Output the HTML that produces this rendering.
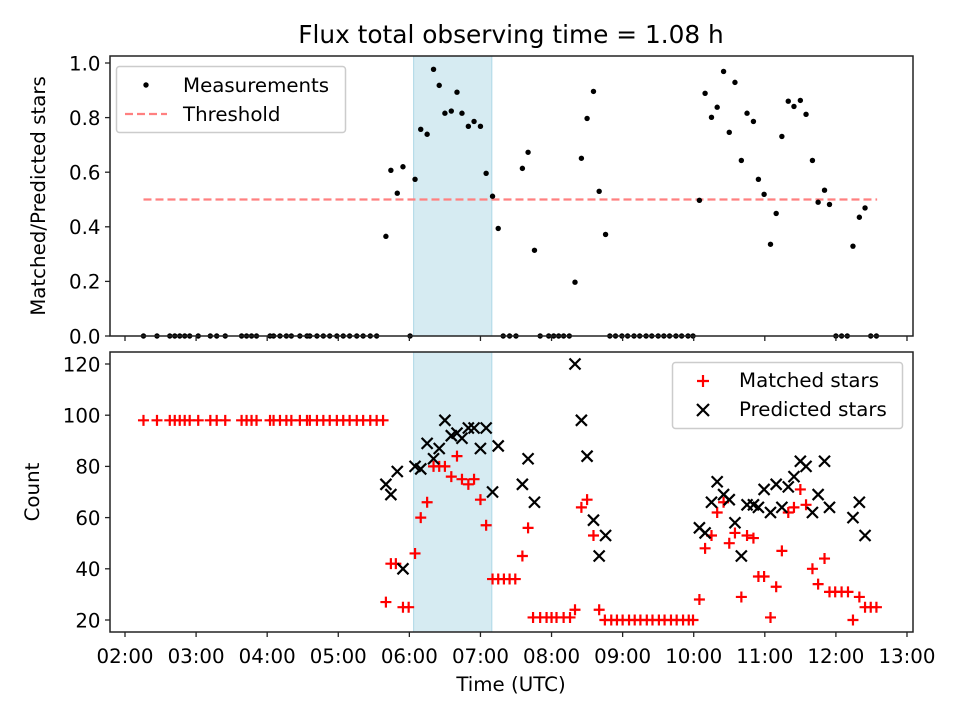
<!DOCTYPE html>
<html><head><meta charset="utf-8"><style>
body{margin:0;background:#fff;}
svg{display:block;font-family:"DejaVu Sans","Liberation Sans",sans-serif;}
</style></head><body>
<svg id="c" width="960" height="720" viewBox="0 0 960 720"></svg>
<script>
const ratioTimes=[2.26,2.45,2.63,2.70,2.77,2.84,2.91,3.03,3.20,3.29,3.41,3.64,3.71,3.78,3.85,4.04,4.09,4.18,4.27,4.34,4.46,4.56,4.60,4.70,4.79,4.88,4.98,5.07,5.16,5.26,5.35,5.45,5.54,
5.67,5.74,5.83,5.91,6.01,6.08,6.16,6.25,6.34,6.42,6.50,6.59,6.67,6.74,6.83,6.91,7.00,7.08,7.17,7.25,7.32,7.41,7.50,7.59,7.67,7.76,7.84,7.96,8.03,8.10,8.17,8.25,
8.33,8.42,8.50,8.59,8.67,8.76,8.82,8.90,8.99,9.07,9.16,9.24,9.33,9.41,9.50,9.58,9.66,9.75,9.83,9.92,9.99,
10.08,10.16,10.25,10.33,10.42,10.50,10.58,10.67,10.75,10.84,10.91,10.99,11.08,11.16,11.24,11.33,11.41,11.50,11.58,11.67,11.75,11.84,11.91,12.00,12.08,12.16,12.24,12.33,12.41,12.49,12.57];
const ratioValues=[0,0,0,0,0,0,0,0,0,0,0,0,0,0,0,0,0,0,0,0,0,0,0,0,0,0,0,0,0,0,0,0,0,
0.365,0.607,0.523,0.62,0,0.574,0.757,0.739,0.977,0.918,0.816,0.824,0.893,0.816,0.768,0.786,0.768,0.596,0.512,0.394,0,0,0,0.614,0.673,0.314,0,0,0,0,0,0,
0.197,0.651,0.797,0.896,0.530,0.372,0,0,0,0,0,0,0,0,0,0,0,0,0,0,0,
0.497,0.889,0.801,0.838,0.969,0.746,0.929,0.643,0.816,0.786,0.574,0.519,0.336,0.449,0.731,0.860,0.841,0.863,0.812,0.643,0.490,0.534,0.482,0,0,0,0.329,0.435,0.469,0,0];
const matchedTimes=[2.26,2.45,2.63,2.70,2.77,2.84,2.91,3.03,3.20,3.29,3.41,3.64,3.71,3.78,3.85,4.04,4.09,4.18,4.27,4.34,4.46,4.56,4.60,4.70,4.79,4.88,4.98,5.07,5.16,5.26,5.35,5.45,5.54,5.63,
5.67,5.74,5.81,5.91,5.99,6.08,6.16,6.25,6.34,6.42,6.50,6.59,6.67,6.74,6.83,6.91,7.00,7.08,7.17,7.25,7.33,7.41,7.49,7.59,7.67,7.74,7.84,7.93,8.00,8.07,8.17,8.26,8.33,8.42,8.50,8.59,8.67,
8.75,8.84,8.92,9.00,9.09,9.17,9.25,9.34,9.42,9.51,9.59,9.68,9.76,9.85,9.93,9.99,
10.08,10.16,10.25,10.33,10.42,10.50,10.58,10.67,10.75,10.84,10.91,10.99,11.08,11.16,11.24,11.33,11.41,11.50,11.58,11.67,11.75,11.84,11.91,11.99,12.08,12.17,12.24,12.33,12.41,12.49,12.57];
const matchedValues=[98,98,98,98,98,98,98,98,98,98,98,98,98,98,98,98,98,98,98,98,98,98,98,98,98,98,98,98,98,98,98,98,98,98,
27,42,42,25,25,46,60,66,80,80,80,76,84,75,73,75,67,57,36,36,36,36,36,45,56,21,21,21,21,21,21,21,24,64,67,53,24,
20,20,20,20,20,20,20,20,20,20,20,20,20,20,20,20,
28,48,53,62,66,50,54,29,53,52,37,37,21,33,47,62,64,71,65,40,34,44,31,31,31,31,20,29,25,25,25];
const predictedTimes=[5.67,5.74,5.83,5.91,6.08,6.16,6.25,6.34,6.42,6.50,6.59,6.67,6.74,6.83,6.91,7.00,7.08,7.17,7.25,7.59,7.67,7.76,8.33,8.42,8.50,8.59,8.67,8.76,
10.08,10.16,10.25,10.33,10.42,10.50,10.58,10.67,10.75,10.84,10.91,10.99,11.08,11.16,11.24,11.33,11.41,11.50,11.58,11.67,11.75,11.84,11.91,12.24,12.33,12.41];
const predictedValues=[73,69,78,40,80,79,89,83,87,98,92,93,91,95,95,87,95,70,88,73,83,66,120,98,84,59,45,53,
56,54,66,74,69,67,58,45,65,65,64,71,62,73,64,72,76,82,80,62,69,82,64,60,66,53];
const xTickLabels=["02:00","03:00","04:00","05:00","06:00","07:00","08:00","09:00","10:00","11:00","12:00","13:00"];
const xTickHours=[2,3,4,5,6,7,8,9,10,11,12,13];
const topTicks=[0,0.2,0.4,0.6,0.8,1.0];
const botTicks=[20,40,60,80,100,120];
const threshold=0.5, thrStart=2.26, thrEnd=12.58, shadeStart=6.06, shadeEnd=7.16;

const NS="http://www.w3.org/2000/svg";
const svg=document.getElementById('c');
function el(tag,attrs,parent){const e=document.createElementNS(NS,tag);for(const k in attrs)e.setAttribute(k,attrs[k]);(parent||svg).appendChild(e);return e;}
const L=110,R=913;
const xs=h=>125+(h-2)*71.09;
const T={top:56,bot:336}, B={top:352,bot:632};
const yT=v=>336-v*273;
const yB=v=>620-(v-20)*2.56;
const FS=19.8;

el('text',{x:511,y:43,'font-size':24.8,'text-anchor':'middle',}).textContent='Flux total observing time = 1.08 h';

[[T,'top'],[B,'bottom']].forEach(([P,n])=>{
  const g=el('g',{});
  
  
  const s=el('rect',{x:xs(shadeStart),y:P.top,width:xs(shadeEnd)-xs(shadeStart),height:P.bot-P.top,fill:'#add8e6','fill-opacity':0.5,stroke:'#add8e6'},g);
  
  
});

const th=el('line',{x1:xs(thrStart),x2:xs(thrEnd),y1:yT(threshold),y2:yT(threshold),stroke:'#ff8080','stroke-width':2.2,'stroke-dasharray':'8,4'});



ratioTimes.forEach((t,i)=>{
  const c=el('circle',{cx:xs(t),cy:yT(ratioValues[i]),r:2.7,fill:'#000'});
  
  
});
matchedTimes.forEach((t,i)=>{
  const x=xs(t),y=yB(matchedValues[i]);
  const p=el('path',{d:`M${x-5.5},${y}H${x+5.5}M${x},${y-5.5}V${y+5.5}`,stroke:'#ff0000','stroke-width':2.2,fill:'none'});
  
  
});
predictedTimes.forEach((t,i)=>{
  const x=xs(t),y=yB(predictedValues[i]);
  const p=el('path',{d:`M${x-5.5},${y-5.5}L${x+5.5},${y+5.5}M${x-5.5},${y+5.5}L${x+5.5},${y-5.5}`,stroke:'#000','stroke-width':2.2,fill:'none'});
  
  
});

[[T,false],[B,true]].forEach(([P,lab])=>{
  const f=el('rect',{x:L,y:P.top,width:R-L,height:P.bot-P.top,fill:'none',stroke:'#222','stroke-width':1.5});
  
  
  xTickHours.forEach((h,i)=>{
    el('line',{x1:xs(h),x2:xs(h),y1:P.bot,y2:P.bot+5,stroke:'#222','stroke-width':1.3});
    if(lab){const t=el('text',{x:xs(h),y:663,'font-size':FS,'text-anchor':'middle'});
      
      
      t.textContent=xTickLabels[i];}
  });
});
topTicks.forEach(v=>{
  el('line',{x1:L-5,x2:L,y1:yT(v),y2:yT(v),stroke:'#222','stroke-width':1.3});
  const t=el('text',{x:L-9.5,y:yT(v)+7.3,'font-size':FS,'text-anchor':'end'});
  
  
  t.textContent=v.toFixed(1);
});
botTicks.forEach(v=>{
  el('line',{x1:L-5,x2:L,y1:yB(v),y2:yB(v),stroke:'#222','stroke-width':1.3});
  const t=el('text',{x:L-9.5,y:yB(v)+7.3,'font-size':FS,'text-anchor':'end'});
  
  
  t.textContent=v;
});
el('text',{x:45,y:196,'font-size':FS,'text-anchor':'middle',transform:'rotate(-90 45 196)',}).textContent='Matched/Predicted stars';
el('text',{x:39,y:492,'font-size':FS,'text-anchor':'middle',transform:'rotate(-90 39 492)',}).textContent='Count';
el('text',{x:511,y:691,'font-size':FS,'text-anchor':'middle',}).textContent='Time (UTC)';
</script>
<svg width="960" height="720" style="position:absolute;left:0;top:0">
 <g font-family="DejaVu Sans, Liberation Sans, sans-serif" font-size="19.8">
  <rect x="116.5" y="66.5" width="229" height="66" rx="3" fill="#fff" fill-opacity="0.8" stroke="#ccc" stroke-width="1.5"/>
  <circle cx="146" cy="85" r="2.7" fill="#000"/>
  <text x="183" y="92">Measurements</text>
  <line x1="125" x2="167" y1="114" y2="114" stroke="#ff8080" stroke-width="2.2" stroke-dasharray="8,4"/>
  <text x="183" y="121">Threshold</text>
 </g>
 <g font-family="DejaVu Sans, Liberation Sans, sans-serif" font-size="19.8">
  <rect x="672.5" y="362.5" width="230" height="66" rx="3" fill="#fff" fill-opacity="0.8" stroke="#ccc" stroke-width="1.5"/>
  <path d="M697,381H709M703,375V387" stroke="#f00" stroke-width="2.2"/>
  <text x="739" y="387">Matched stars</text>
  <path d="M697,404L709,416M697,416L709,404" stroke="#000" stroke-width="2.2"/>
  <text x="739" y="416">Predicted stars</text>
 </g>
</svg>
</body></html>
